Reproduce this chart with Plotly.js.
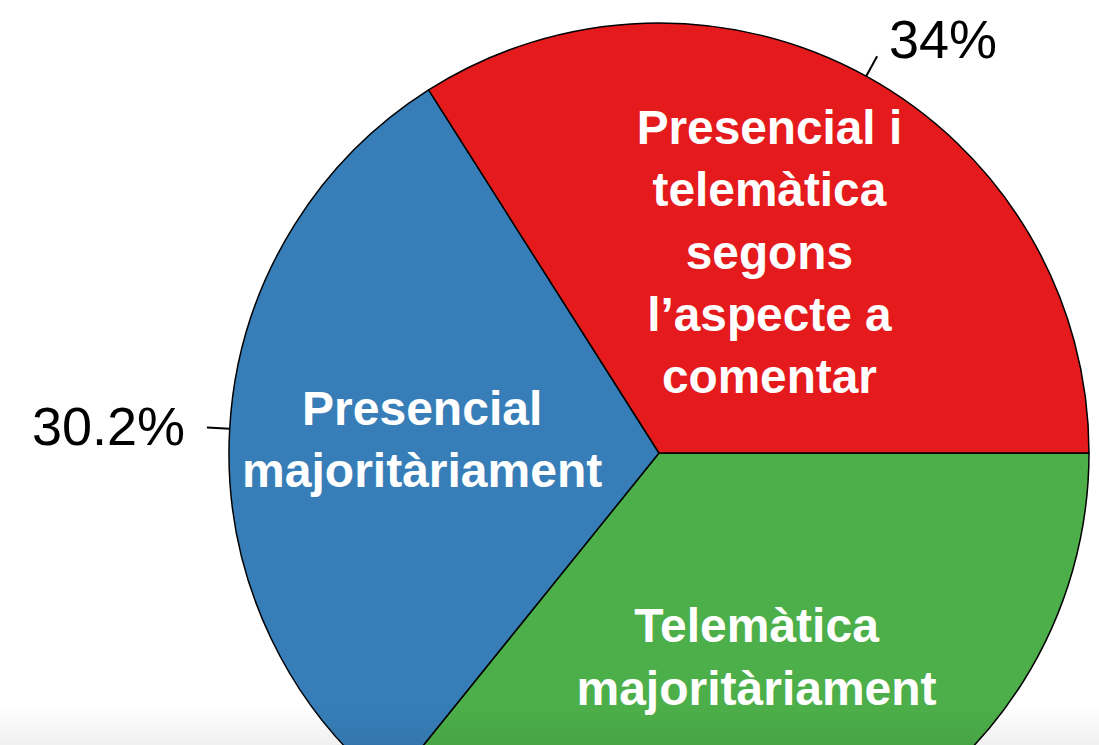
<!DOCTYPE html>
<html>
<head>
<meta charset="utf-8">
<script src="https://cdn.plot.ly/plotly-3.0.1.min.js"></script>
<style>
html, body { margin: 0; padding: 0; overflow: hidden; background: #fff; }
#chart { width: 1099px; height: 883px; }
#shade { position: fixed; left: 0; right: 0; bottom: 0; height: 40px; pointer-events: none;
  background: linear-gradient(to bottom, rgba(0,0,0,0), rgba(0,0,0,0.06)); }
</style>
</head>
<body>
<div id="chart"></div>
<div id="shade"></div>
<script>
// Data (clockwise from 3 o'clock)
const categories = ['Telemàtica majoritàriament', 'Presencial majoritàriament', 'Presencial i telemàtica segons l’aspecte a comentar'];
const sliceLabels = ['Telemàtica<br>majoritàriament', 'Presencial<br>majoritàriament', 'Presencial i<br>telemàtica<br>segons<br>l’aspecte a<br>comentar'];
const values = [35.8, 30.2, 34];
const colors = ['#4DAF4A', '#377EB8', '#E41A1C'];

const pie = {
  type: 'pie',
  labels: categories,
  values: values,
  sort: false,
  direction: 'clockwise',
  rotation: 90,
  showlegend: false,
  hoverinfo: 'skip',
  text: sliceLabels,
  textinfo: 'text',
  textposition: 'inside',
  insidetextorientation: 'horizontal',
  insidetextfont: { family: 'Liberation Sans, Arial, sans-serif', size: 48, color: '#ffffff', weight: 'bold' },
  marker: { colors: colors, line: { color: '#000000', width: 1.5 } }
};

// Outside percentage labels with leader lines, positioned from the values
const total = values.reduce((a, b) => a + b, 0);
const annotations = [];
const shapes = [];
let cum = 0;
values.forEach((v, i) => {
  const midDeg = -((cum + v / 2) / total) * 360; // clockwise from 3 o'clock
  cum += v;
  const th = midDeg * Math.PI / 180;
  const c = Math.cos(th), s = Math.sin(th);
  const pt = (k) => [0.5 + 0.5 * k * c, 0.5 + 0.5 * k * s];
  const a = pt(1.0), b = pt(1.053), t = pt(1.10);
  shapes.push({ type: 'line', xref: 'paper', yref: 'paper', x0: a[0], y0: a[1], x1: b[0], y1: b[1],
    line: { color: '#000000', width: 2 } });
  const pct = parseFloat((v / total * 100).toFixed(1));
  annotations.push({ xref: 'paper', yref: 'paper', x: t[0], y: t[1], text: pct + '%', showarrow: false,
    xanchor: c >= 0 ? 'left' : 'right', yanchor: 'middle',
    font: { family: 'Liberation Sans, Arial, sans-serif', size: 54, color: '#000000' } });
});

const layout = {
  width: 1099,
  height: 883,
  margin: { l: 229, r: 10, t: 23, b: 0 },
  paper_bgcolor: '#ffffff',
  plot_bgcolor: '#ffffff',
  shapes: shapes,
  annotations: annotations
};

Plotly.newPlot('chart', [pie], layout, { displayModeBar: false, staticPlot: true });
</script>
</body>
</html>
